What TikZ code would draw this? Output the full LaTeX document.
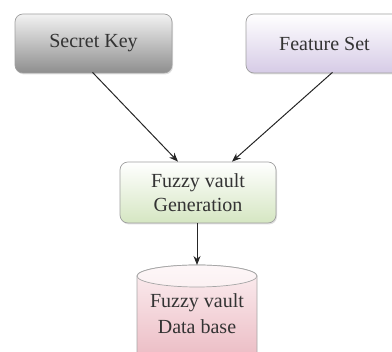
\documentclass[tikz,border=0pt]{standalone}
\usepackage{fontspec}
\setmainfont{Liberation Serif}
\usetikzlibrary{arrows.meta,shadows,calc}
\definecolor{skTop}{HTML}{F2F2F2}
\definecolor{skBot}{HTML}{8E8E8E}
\definecolor{fsTop}{HTML}{FFFFFF}
\definecolor{fsBot}{HTML}{D6CBE6}
\definecolor{gnTop}{HTML}{FFFFFF}
\definecolor{gnBot}{HTML}{D5E6C2}
\definecolor{dbTop}{HTML}{FCEFF1}
\definecolor{dbBot}{HTML}{E9B5BE}
\definecolor{txt}{HTML}{333333}
\begin{document}
\begin{tikzpicture}[x=1pt,y=1pt,
  box/.style={draw=gray!75, line width=0.7pt, rounded corners=8pt,
    minimum width=157pt, minimum height=59pt, align=center, text=txt,
    font=\fontsize{20}{24}\selectfont,
    drop shadow={opacity=0.25, shadow xshift=1pt, shadow yshift=-1.5pt}},
  conn/.style={draw=black!85, line width=1pt, -{Stealth[length=9pt,width=7pt]}},
  lbl/.style={align=center, text=txt, font=\fontsize{20}{26}\selectfont}]
\useasboundingbox (0,0) rectangle (392,352);
\clip (0,0) rectangle (392,352);
\node[box, top color=skTop, bottom color=skBot] (sk) at (93.5,308.5) {Secret Key};
\node[box, top color=fsTop, bottom color=fsBot] (fs) at (324.5,308.5) {Feature Set};
\node[box, top color=gnTop, bottom color=gnBot, minimum width=156pt, minimum height=61pt] (gen) at (198,159.5) {Fuzzy vault\\Generation};
% database cylinder
\shade[top color=dbTop, bottom color=dbBot, draw=gray!70, line width=0.7pt]
  (137,76) -- (137,-20) -- (257,-20) -- (257,76)
  arc[start angle=0, end angle=180, x radius=60, y radius=11] -- cycle;
\draw[gray!70, line width=0.7pt, fill=white, fill opacity=0.5]
  (197,76) ellipse[x radius=60, y radius=11];
\coordinate (dbtop) at (197,87);
\node[lbl] (db) at (197,38) {Fuzzy vault\\Data base};
\coordinate (g1) at ($(gen.north)+(-20,0)$);
\coordinate (g2) at ($(gen.north)+(34,0)$);
\draw[conn] ($(sk.south)+(-1,1)$) -- (g1);
\draw[conn] ($(fs.south)+(8,1)$) -- (g2);
\draw[conn] (gen.south -| dbtop) -- (dbtop);
\end{tikzpicture}
\end{document}
